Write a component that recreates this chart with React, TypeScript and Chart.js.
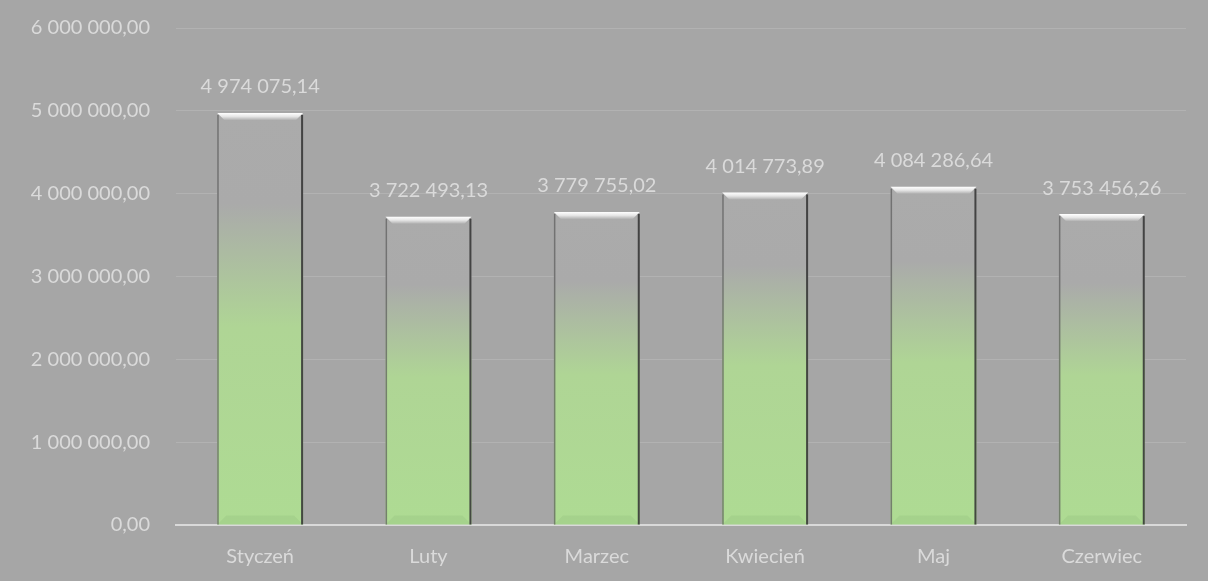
import React, { useEffect, useRef } from "react";
import { Chart, registerables } from "chart.js";

Chart.register(...registerables);

const categories = ["Styczeń", "Luty", "Marzec", "Kwiecień", "Maj", "Czerwiec"];
const values = [4974075.14, 3722493.13, 3779755.02, 4014773.89, 4084286.64, 3753456.26];
const yMin = 0;
const yMax = 6000000;
const yStep = 1000000;

const FONT = "Lato, 'Open Sans', sans-serif";
const TEXT = "#dadada";
const FS = 20;

function fmt(v: number): string {
  const fixed = Math.abs(v).toFixed(2);
  const [int, dec] = fixed.split(".");
  const grouped = int.replace(/\B(?=(\d{3})+(?!\d))/g, " ");
  return (v < 0 ? "-" : "") + grouped + "," + dec;
}

const barDecor = {
  id: "barDecor",
  afterDatasetsDraw(chart: any) {
    const ctx = chart.ctx;
    const meta = chart.getDatasetMeta(0);
    ctx.save();
    meta.data.forEach((bar: any, i: number) => {
      const left = bar.x - bar.width / 2;
      const right = bar.x + bar.width / 2;
      const top = bar.y;
      const base = bar.base;
      const bev = 7;
      const g = ctx.createLinearGradient(0, top, 0, top + bev);
      g.addColorStop(0, "#ffffff");
      g.addColorStop(0.5, "#e6e6e6");
      g.addColorStop(1, "#b2b2b2");
      ctx.fillStyle = g;
      ctx.beginPath();
      ctx.moveTo(left, top);
      ctx.lineTo(right, top);
      ctx.lineTo(right - bev, top + bev);
      ctx.lineTo(left + bev, top + bev);
      ctx.closePath();
      ctx.fill();
      ctx.fillStyle = "rgba(110,150,90,0.12)";
      ctx.beginPath();
      ctx.moveTo(left, base);
      ctx.lineTo(right, base);
      ctx.lineTo(right - 9, base - 9);
      ctx.lineTo(left + 9, base - 9);
      ctx.closePath();
      ctx.fill();
      ctx.fillStyle = "rgba(90,90,90,0.7)";
      ctx.fillRect(left, top + 2, 1.5, base - top - 2);
      ctx.fillStyle = "rgba(55,55,55,0.9)";
      ctx.fillRect(right - 2, top + 2, 2, base - top - 2);
      ctx.fillStyle = TEXT;
      ctx.font = `${FS}px ${FONT}`;
      ctx.textAlign = "center";
      ctx.textBaseline = "middle";
      ctx.fillText(fmt(values[i]), bar.x, top - 26);
    });
    ctx.restore();
  },
};

export default function App() {
  const ref = useRef<HTMLCanvasElement | null>(null);
  useEffect(() => {
    document.body.style.margin = "0";
    document.body.style.background = "#a6a6a6";
    const canvas = ref.current;
    if (!canvas) return;
    const chart = new Chart(canvas, {
      type: "bar",
      data: {
        labels: categories,
        datasets: [
          {
            data: values,
            backgroundColor: (c: any) => {
              const ch = c.chart;
              if (!ch.chartArea) return "#aaaaaa";
              const ys = ch.scales.y;
              const top = ys.getPixelForValue(values[c.dataIndex]);
              const base = ys.getPixelForValue(0);
              const g = ch.ctx.createLinearGradient(0, top, 0, base);
              g.addColorStop(0, "#ababab");
              g.addColorStop(0.22, "#aaaaaa");
              g.addColorStop(0.52, "#afd595");
              g.addColorStop(1, "#aedb93");
              return g;
            },
            borderWidth: 0,
            barPercentage: 0.51,
            categoryPercentage: 1,
          },
        ],
      },
      options: {
        animation: false,
        responsive: false,
        maintainAspectRatio: false,
        layout: { padding: { top: 28, right: 22, left: 0, bottom: 0 } },
        plugins: { legend: { display: false }, tooltip: { enabled: false } },
        scales: {
          x: {
            grid: { display: false, drawTicks: false },
            border: { display: true, color: "#d9d9d9", width: 2 },
            ticks: { color: TEXT, font: { family: FONT, size: FS }, padding: 20 },
            afterFit: (s: any) => {
              s.height = 56;
              s.paddingLeft = 0;
              s.paddingRight = 0;
            },
          },
          y: {
            min: yMin,
            max: yMax,
            ticks: {
              stepSize: yStep,
              color: TEXT,
              font: { family: FONT, size: FS },
              padding: 26,
              callback: (v: any) => fmt(Number(v)),
            },
            grid: { color: "#b2b2b2", drawTicks: false, lineWidth: 1 },
            border: { display: false },
            afterFit: (s: any) => {
              s.width = 176;
              s.paddingTop = 0;
              s.paddingBottom = 0;
            },
          },
        },
      },
      plugins: [barDecor],
    });
    return () => chart.destroy();
  }, []);
  return (
    <div style={{ width: 1208, height: 581, background: "#a6a6a6" }}>
      <canvas ref={ref} width={1208} height={581} style={{ display: "block" }} />
    </div>
  );
}
